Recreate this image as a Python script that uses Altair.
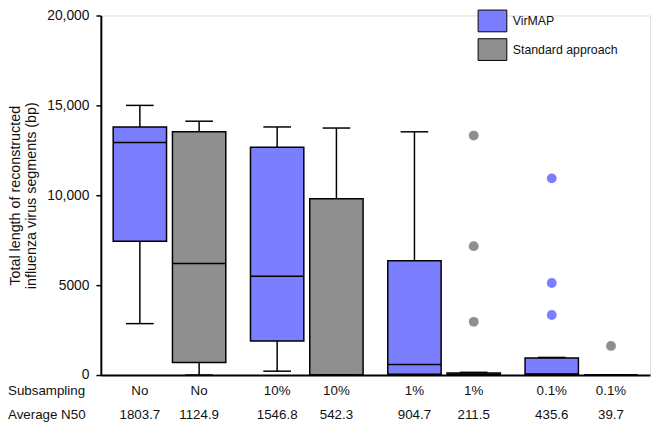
import altair as alt
import pandas as pd

groups = ["No", "10%", "1%", "0.1%"]
methods = ["VirMAP", "Standard approach"]
colors = ["#7B7FFF", "#8F8F8F"]

box_group = ["No", "No", "10%", "10%", "1%", "1%", "0.1%", "0.1%"]
box_method = ["VirMAP", "Standard approach"] * 4
whisker_low = [2860, 0, 215, 0, 0, 0, 0, 0]
q1 = [7440, 700, 1890, 0, 50, 0, 30, 0]
median = [12940, 6200, 5500, 0, 590, 40, 60, 0]
q3 = [13800, 13530, 12670, 9810, 6360, 110, 950, 0]
whisker_high = [15000, 14120, 13800, 13740, 13530, 150, 980, 0]
subsampling = ["No", "No", "10%", "10%", "1%", "1%", "0.1%", "0.1%"]
avg_n50 = ["1803.7", "1124.9", "1546.8", "542.3", "904.7", "211.5", "435.6", "39.7"]

out_group = ["1%", "1%", "1%", "0.1%", "0.1%", "0.1%", "0.1%"]
out_method = ["Standard approach"] * 3 + ["VirMAP"] * 3 + ["Standard approach"]
out_value = [13320, 7170, 2960, 10940, 5120, 3340, 1620]

row_labels = ["Subsampling", "Average N50"]

boxes = pd.DataFrame({
    "group": box_group, "method": box_method, "lo": whisker_low, "q1": q1,
    "med": median, "q3": q3, "hi": whisker_high, "sub": subsampling, "n50": avg_n50,
})
outliers = pd.DataFrame({"group": out_group, "method": out_method, "value": out_value})

TOP = 5
H = 364
FONT = "Liberation Sans"

x_enc = alt.X("group:N", sort=groups, title=None,
              scale=alt.Scale(paddingInner=0, paddingOuter=0),
              axis=alt.Axis(labels=False, ticks=False, domain=True,
                            domainColor="black", domainWidth=2))
xo_enc = alt.XOffset("method:N", sort=methods,
                     scale=alt.Scale(paddingInner=0.1, paddingOuter=0.2083))
y_scale = alt.Scale(domain=[0, 20000], nice=False)
y_axis = alt.Axis(
    values=[0, 5000, 10000, 15000, 20000],
    labelExpr="datum.value >= 10000 ? format(datum.value, ',') : format(datum.value, 'd')",
    grid=False, domainColor="black", domainWidth=2, tickColor="black",
    tickWidth=1.5, tickSize=5, labelPadding=7, labelFontSize=14, labelColor="#111",
    labelFont=FONT,
    title=["Total length of reconstructed", "influenza virus segments (bp)"],
    titleFont=FONT, titleFontSize=14.5, titleFontWeight="normal", titleColor="#111",
    titleAngle=270, titleBaseline="top", titleX=-93, titleLineHeight=16,
)

color_scale = alt.Scale(domain=methods, range=colors)

base = alt.Chart(boxes)

whisk = base.mark_rule(color="black", strokeWidth=1.5).encode(
    x=x_enc, xOffset=xo_enc,
    y=alt.Y("lo:Q", scale=y_scale, axis=y_axis), y2="hi:Q")

bars = base.mark_bar(stroke="black", strokeWidth=1.5, size=54).encode(
    x=x_enc, xOffset=xo_enc, y=alt.Y("q1:Q", scale=y_scale), y2="q3:Q",
    fill=alt.Fill("method:N", scale=color_scale, sort=methods,
                  legend=alt.Legend(
                      title=None, orient="none", legendX=385, legendY=-6,
                      symbolType="M-1.32,-1H1.32V1H-1.32Z", symbolSize=484,
                      symbolStrokeColor="black", symbolStrokeWidth=1,
                      labelFont=FONT, labelFontSize=12.5, labelColor="#111",
                      labelOffset=9, rowPadding=2, padding=0, symbolOpacity=1)))

med = base.mark_tick(color="black", size=54, thickness=1.5, opacity=1).encode(
    x=x_enc, xOffset=xo_enc, y=alt.Y("med:Q", scale=y_scale))
cap_hi = base.mark_tick(color="black", size=28, thickness=1.5, opacity=1).encode(
    x=x_enc, xOffset=xo_enc, y=alt.Y("hi:Q", scale=y_scale))
cap_lo = base.mark_tick(color="black", size=28, thickness=1.5, opacity=1).encode(
    x=x_enc, xOffset=xo_enc, y=alt.Y("lo:Q", scale=y_scale))

dots = alt.Chart(outliers).mark_circle(size=100, opacity=1).encode(
    x=x_enc, xOffset=xo_enc, y=alt.Y("value:Q", scale=y_scale),
    fill=alt.Fill("method:N", scale=color_scale, sort=methods, legend=None))

sub_text = base.mark_text(font=FONT, fontSize=13.5, color="#111", baseline="middle").encode(
    x=x_enc, xOffset=xo_enc, y=alt.value(H + 16), text="sub:N")
n50_text = base.mark_text(font=FONT, fontSize=13.5, color="#111", baseline="middle").encode(
    x=x_enc, xOffset=xo_enc, y=alt.value(H + 41), text="n50:N")

lab_df = pd.DataFrame({"label": row_labels, "row": [0, 1]})
row1 = alt.Chart(lab_df).transform_filter("datum.row == 0").mark_text(
    font=FONT, fontSize=13.5, color="#111", align="left", baseline="middle").encode(
    x=alt.value(-94), y=alt.value(H + 16), text="label:N")
row2 = alt.Chart(lab_df).transform_filter("datum.row == 1").mark_text(
    font=FONT, fontSize=13.5, color="#111", align="left", baseline="middle").encode(
    x=alt.value(-94), y=alt.value(H + 41), text="label:N")

chart = alt.layer(whisk, bars, med, cap_hi, cap_lo, dots, sub_text, n50_text, row1, row2).properties(
    width=556, height=H,
    padding={"left": 94, "top": TOP, "right": 2, "bottom": 418 - TOP - H},
    autosize=alt.AutoSizeParams(type="none"),
).configure_view(stroke=None).configure(background="white")

chart.save("out.html", embed_options={"renderer": "svg", "actions": False})
